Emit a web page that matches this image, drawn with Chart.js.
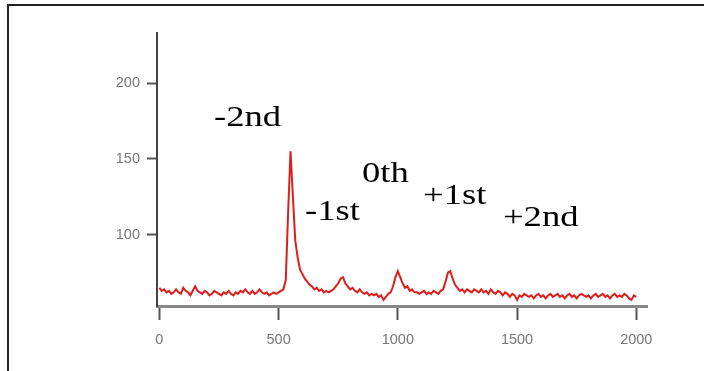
<!DOCTYPE html>
<html>
<head>
<meta charset="utf-8">
<script src="https://cdn.jsdelivr.net/npm/chart.js@4/dist/chart.umd.min.js"></script>
<style>
  body { margin: 0; background: #fff; }
  #wrap { position: relative; width: 704px; height: 371px; overflow: hidden; }
  #frame { position: absolute; left: 7px; top: 4px; width: 720px; height: 400px;
           border-top: 2px solid #222; border-left: 2px solid #222; }
  #spectrum { position: absolute; left: 0; top: 0; }
</style>
</head>
<body>
<div id="wrap">
  <div id="frame"></div>
  <canvas id="spectrum" width="704" height="371"></canvas>
</div>
<script>
// Pixel position along the detector
const pixelPos = [
  0, 10, 20, 30, 40, 50, 60, 70, 80, 90,
  100, 110, 120, 130, 140, 150, 160, 170, 180, 190,
  200, 210, 220, 230, 240, 250, 260, 270, 280, 290,
  300, 310, 320, 330, 340, 350, 360, 370, 380, 390,
  400, 410, 420, 430, 440, 450, 460, 470, 480, 490,
  500, 510, 520, 530, 540, 550, 560, 570, 580, 590,
  600, 610, 620, 630, 640, 650, 660, 670, 680, 690,
  700, 710, 720, 730, 740, 750, 760, 770, 780, 790,
  800, 810, 820, 830, 840, 850, 860, 870, 880, 890,
  900, 910, 920, 930, 940, 950, 960, 970, 980, 990,
  1000, 1010, 1020, 1030, 1040, 1050, 1060, 1070, 1080, 1090,
  1100, 1110, 1120, 1130, 1140, 1150, 1160, 1170, 1180, 1190,
  1200, 1210, 1220, 1230, 1240, 1250, 1260, 1270, 1280, 1290,
  1300, 1310, 1320, 1330, 1340, 1350, 1360, 1370, 1380, 1390,
  1400, 1410, 1420, 1430, 1440, 1450, 1460, 1470, 1480, 1490,
  1500, 1510, 1520, 1530, 1540, 1550, 1560, 1570, 1580, 1590,
  1600, 1610, 1620, 1630, 1640, 1650, 1660, 1670, 1680, 1690,
  1700, 1710, 1720, 1730, 1740, 1750, 1760, 1770, 1780, 1790,
  1800, 1810, 1820, 1830, 1840, 1850, 1860, 1870, 1880, 1890,
  1900, 1910, 1920, 1930, 1940, 1950, 1960, 1970, 1980, 1990,
  2000
];

// Intensity
const intensity = [
  65, 63, 64, 62, 63, 61, 62, 64, 62, 61,
  65, 63, 62, 60, 63, 66, 63, 62, 61, 63,
  62, 60, 61, 63, 62, 61, 60, 62, 61, 63,
  61, 60, 62, 61, 63, 62, 64, 62, 61, 63,
  61, 62, 64, 62, 61, 62, 60, 61, 62, 61,
  62, 63, 64, 70, 115, 155, 125, 96, 85, 77,
  74, 71, 69, 67, 66, 64, 65, 63, 64, 62,
  63, 62, 63, 64, 66, 68, 71, 72, 68, 66,
  64, 65, 63, 62, 64, 62, 61, 62, 60, 61,
  60, 61, 59, 60, 57, 59, 61, 62, 66, 72,
  76, 72, 68, 65, 66, 63, 64, 62, 62, 61,
  62, 63, 61, 62, 61, 63, 62, 61, 63, 64,
  69, 75, 76, 71, 67, 65, 63, 64, 62, 64,
  63, 62, 64, 63, 62, 64, 62, 63, 61, 64,
  62, 61, 63, 62, 60, 62, 61, 59, 61, 60,
  57, 60, 59, 61, 60, 59, 60, 58, 60, 61,
  59, 60, 58, 60, 61, 59, 60, 61, 59, 60,
  58, 60, 61, 59, 60, 58, 60, 61, 60, 59,
  60, 58, 60, 61, 59, 60, 61, 59, 60, 58,
  60, 61, 59, 60, 59, 61, 60, 58, 57, 60,
  59
];

const xTicks = [0, 500, 1000, 1500, 2000];
const yTicks = [100, 150, 200];

// Diffraction order labels
const orderNames = ['-2nd', '-1st', '0th', '+1st', '+2nd'];

// where each label starts, in data units (x, y of baseline)
const orderAnchors = [[229, 172], [611, 110], [850, 135], [1106, 120], [1441, 106]];

const orderLabels = {
  id: 'orderLabels',
  afterDraw(chart) {
    const { ctx, scales } = chart;
    ctx.save();
    ctx.fillStyle = '#000';
    ctx.font = '30px "Liberation Serif", "Times New Roman", serif';
    ctx.textBaseline = 'alphabetic';
    orderNames.forEach((name, i) => {
      const px = scales.x.getPixelForValue(orderAnchors[i][0]);
      const py = scales.y.getPixelForValue(orderAnchors[i][1]);
      ctx.save();
      ctx.translate(px, py);
      ctx.scale(1.22, 1);
      ctx.fillText(name, 0, 0);
      ctx.restore();
    });
    ctx.restore();
  }
};

const tickFont = { family: '"Liberation Sans", Arial, sans-serif', size: 14.5 };

new Chart(document.getElementById('spectrum'), {
  type: 'line',
  data: {
    datasets: [{
      data: pixelPos.map((x, i) => ({ x: x, y: intensity[i] })),
      borderColor: '#dc1f1c',
      borderWidth: 2,
      pointRadius: 0,
      tension: 0
    }]
  },
  options: {
    responsive: false,
    animation: false,
    layout: { padding: { top: 33, right: 57, left: 0, bottom: 0 } },
    plugins: { legend: { display: false }, tooltip: { enabled: false } },
    scales: {
      x: {
        type: 'linear',
        min: -10,
        max: 2045,
        afterBuildTicks: s => { s.ticks = xTicks.map(v => ({ value: v })); },
        afterFit: s => { s.height = 65; },
        grid: { drawOnChartArea: false, tickLength: 14, tickColor: '#555', tickWidth: 2 },
        border: { color: '#888', width: 3 },
        ticks: { font: tickFont, color: '#777', padding: 11, maxRotation: 0, callback: v => String(v) }
      },
      y: {
        min: 53,
        max: 233,
        afterBuildTicks: s => { s.ticks = yTicks.map(v => ({ value: v })); },
        afterFit: s => { s.width = 157; },
        grid: { drawOnChartArea: false, tickLength: 10, tickColor: '#555', tickWidth: 2 },
        border: { color: '#444', width: 2 },
        ticks: { font: tickFont, color: '#777', padding: 7, callback: v => String(v) }
      }
    }
  },
  plugins: [orderLabels]
});
</script>
</body>
</html>
